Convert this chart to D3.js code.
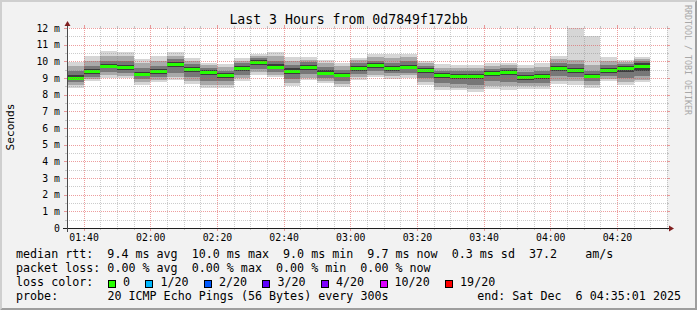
<!DOCTYPE html>
<html><head><meta charset="utf-8">
<script src="https://cdn.jsdelivr.net/npm/d3@7"></script>
<style>
html,body{margin:0;padding:0;background:#f2f2f2;}
svg{display:block;}
text{font-family:"DejaVu Sans Mono",monospace;white-space:pre;}
</style>
</head><body>
<svg id="c" width="697" height="310"></svg>
<script>
// ---- data ----
const slotStart = ["01:35","01:40","01:45","01:50","01:55","02:00","02:05","02:10","02:15","02:20","02:25","02:30","02:35","02:40","02:45","02:50","02:55","03:00","03:05","03:10","03:15","03:20","03:25","03:30","03:35","03:40","03:45","03:50","03:55","04:00","04:05","04:10","04:15","04:20","04:25"];
const pingMin  = [8.43,8.80,9.00,8.97,8.60,8.75,8.90,8.66,8.42,8.40,8.84,9.20,9.04,8.53,8.88,8.70,8.48,8.90,9.06,8.96,9.02,8.56,8.26,8.26,8.16,8.36,8.30,8.34,8.34,8.66,8.60,8.40,8.80,8.60,8.74];
const pingLow  = [8.58,8.92,9.15,9.10,8.75,8.88,9.05,8.82,8.60,8.58,8.98,9.35,9.20,8.72,9.02,8.85,8.65,9.05,9.20,9.10,9.15,8.75,8.45,8.42,8.35,8.55,8.50,8.50,8.50,8.85,8.80,8.58,8.95,8.78,8.90];
const pingQLow = [8.75,9.08,9.35,9.30,8.95,9.05,9.30,9.05,8.85,8.80,9.20,9.55,9.38,8.95,9.22,9.02,8.85,9.25,9.40,9.28,9.32,9.00,8.70,8.65,8.60,8.80,8.78,8.70,8.72,9.10,9.05,8.80,9.12,9.02,9.12];
const pingCLow = [8.88,9.25,9.60,9.50,9.12,9.25,9.65,9.35,9.18,9.02,9.45,9.80,9.55,9.25,9.50,9.18,9.05,9.45,9.62,9.45,9.52,9.30,9.00,8.95,8.92,9.10,9.15,8.90,8.95,9.42,9.30,8.98,9.32,9.38,9.45];
const medianRtt= [8.99,9.40,9.74,9.67,9.24,9.40,9.85,9.56,9.36,9.19,9.60,9.97,9.68,9.44,9.68,9.32,9.19,9.62,9.78,9.58,9.66,9.46,9.18,9.12,9.12,9.30,9.36,9.04,9.10,9.60,9.46,9.10,9.46,9.60,9.74];
const pingCHigh= [9.15,9.55,9.85,9.80,9.38,9.55,9.98,9.68,9.48,9.30,9.72,10.07,9.82,9.58,9.80,9.48,9.32,9.74,9.90,9.72,9.80,9.58,9.30,9.25,9.24,9.42,9.48,9.18,9.25,9.75,9.62,9.25,9.60,9.72,9.88];
const pingQHigh= [9.40,9.75,10.05,10.00,9.60,9.75,10.15,9.85,9.62,9.45,9.88,10.20,10.02,9.78,9.95,9.68,9.50,9.90,10.05,9.92,10.00,9.72,9.45,9.42,9.40,9.56,9.62,9.38,9.45,9.92,9.82,9.45,9.80,9.85,10.00];
const pingHigh = [9.70,10.05,10.35,10.30,9.90,10.05,10.35,10.02,9.78,9.65,10.05,10.33,10.30,10.02,10.10,9.90,9.70,10.06,10.25,10.20,10.25,9.88,9.62,9.60,9.58,9.72,9.76,9.60,9.68,10.12,10.10,9.80,10.05,9.98,10.12];
const pingMax  = [9.97,10.33,10.62,10.54,10.14,10.31,10.54,10.20,9.93,9.83,10.20,10.46,10.55,10.25,10.24,10.08,9.88,10.22,10.46,10.46,10.46,10.02,9.82,9.76,9.76,9.90,9.90,9.80,9.90,10.34,12.00,11.50,10.26,10.10,10.26];

const yTickValues = [0,1,2,3,4,5,6,7,8,9,10,11,12];
const yTickLabels = ["0","1 m","2 m","3 m","4 m","5 m","6 m","7 m","8 m","9 m","10 m","11 m","12 m"];
const xTickLabels = ["01:40","02:00","02:20","02:40","03:00","03:20","03:40","04:00","04:20"];

const titleText = "Last 3 Hours from 0d7849f172bb";
const medianStats = ["9.4","10.0","9.0","9.7","0.3","37.2"];
const lossStats = ["0.00","0.00","0.00","0.00"];
const lossLabels = ["0","1/20","2/20","3/20","4/20","10/20","19/20"];
const lossColors = ["#26ff00","#00b8ff","#0059ff","#5e00ff","#7e00ff","#dd00ff","#ff0000"];
const probeText = "20 ICMP Echo Pings (56 Bytes) every 300s";
const endText = "end: Sat Dec  6 04:35:01 2025";

// ---- layout ----
const svg = d3.select("#c");
const W = 697, H = 310;
const X0 = 67, X1 = 667, Y0 = 228, Y1 = 28;
const day = (h, m, s) => new Date(2025, 11, 6, h, m, s || 0);
const parseHM = s => { const [h, m] = s.split(":").map(Number); return day(h, m, 0); };
const tStart = day(1, 35, 1), tEnd = day(4, 35, 1);
const xs = d3.scaleTime().domain([tStart, tEnd]).range([X0, X1]);
const ys = d3.scaleLinear().domain([0, 12]).range([Y0, Y1]);

svg.append("rect").attr("width", W).attr("height", H).attr("fill", "#f2f2f2");
svg.append("rect").attr("x", X0).attr("y", Y1).attr("width", X1 - X0).attr("height", Y0 - Y1).attr("fill", "#ffffff");

// smoke bands
const bands = [
  {lo: pingMin, hi: pingMax, c: "#d6d6d6"},
  {lo: pingLow, hi: pingHigh, c: "#a9a9a9"},
  {lo: pingQLow, hi: pingQHigh, c: "#777777"},
  {lo: pingCLow, hi: pingCHigh, c: "#3c3c3c"}
];
const gSmoke = svg.append("g").attr("shape-rendering", "crispEdges");
const slotX = slotStart.map(s => {
  const t0 = parseHM(s);
  const t1 = d3.timeMinute.offset(t0, 5);
  const a = Math.max(X0, Math.round(xs(t0)));
  const b = Math.round(xs(t1));
  return [a, b];
});
bands.forEach(b => {
  gSmoke.append("g").selectAll("rect").data(slotStart).join("rect")
    .attr("x", (d, i) => slotX[i][0])
    .attr("width", (d, i) => slotX[i][1] - slotX[i][0])
    .attr("y", (d, i) => Math.round(ys(b.hi[i])))
    .attr("height", (d, i) => Math.round(ys(b.lo[i])) - Math.round(ys(b.hi[i])))
    .attr("fill", b.c);
});
gSmoke.append("g").selectAll("rect").data(medianRtt).join("rect")
  .attr("x", (d, i) => slotX[i][0])
  .attr("width", (d, i) => slotX[i][1] - slotX[i][0])
  .attr("y", d => Math.round(ys(d)) - 1)
  .attr("height", 3)
  .attr("fill", lossColors[0]);

// grid on top
const minorCol = "rgba(128,128,128,0.4)", majorCol = "rgba(222,79,79,0.55)";
const gGrid = svg.append("g").attr("shape-rendering", "crispEdges").attr("stroke-width", 1);
const hMinor = d3.range(0.5, 12, 1), hMajor = d3.range(1, 13, 1);
function hline(v, col, ext) {
  const y = Math.round(ys(v)) + 0.5;
  gGrid.append("line").attr("x1", X0).attr("x2", X1).attr("y1", y).attr("y2", y)
    .attr("stroke", col).attr("stroke-dasharray", "1,1");
  gGrid.append("line").attr("x1", X0 - ext).attr("x2", X0).attr("y1", y).attr("y2", y).attr("stroke", col);
  gGrid.append("line").attr("x1", X1).attr("x2", X1 + ext).attr("y1", y).attr("y2", y).attr("stroke", col);
}
hMinor.forEach(v => hline(v, minorCol, 2));
hMajor.forEach(v => hline(v, majorCol, 3));
const majorTimes = xTickLabels.map(parseHM);
const minorTimes = d3.timeMinute.every(5).range(tStart, d3.timeSecond.offset(tEnd, 1))
  .filter(t => !majorTimes.some(m => +m === +t));
function vline(t, col, ext) {
  const x = Math.round(xs(t)) + 0.5;
  gGrid.append("line").attr("x1", x).attr("x2", x).attr("y1", Y1).attr("y2", Y0)
    .attr("stroke", col).attr("stroke-dasharray", "1,1");
  gGrid.append("line").attr("x1", x).attr("x2", x).attr("y1", Y0).attr("y2", Y0 + ext).attr("stroke", col);
  gGrid.append("line").attr("x1", x).attr("x2", x).attr("y1", Y1 - ext).attr("y2", Y1).attr("stroke", col);
}
minorTimes.forEach(t => vline(t, minorCol, 2));
majorTimes.forEach(t => vline(t, majorCol, 3));

// axes lines + arrows
svg.append("line").attr("x1", X0 - 4).attr("x2", X1 + 4).attr("y1", Y0 + 0.5).attr("y2", Y0 + 0.5)
  .attr("stroke", "#1f1f1f").attr("shape-rendering", "crispEdges");
svg.append("line").attr("x1", X0 + 0.5).attr("x2", X0 + 0.5).attr("y1", Y0 + 4).attr("y2", Y1 - 4)
  .attr("stroke", "#4a4a4a").attr("shape-rendering", "crispEdges");
svg.append("path").attr("d", `M${X1 + 2},${Y0 - 2.5}L${X1 + 2},${Y0 + 3.5}L${X1 + 7},${Y0 + 0.5}Z`).attr("fill", "#801f1f");
svg.append("path").attr("d", `M${X0 - 2.5},${Y1 - 2}L${X0 + 3.5},${Y1 - 2}L${X0 + 0.5},${Y1 - 7}Z`).attr("fill", "#801f1f");

// axis labels via d3 axes
const yAxis = d3.axisLeft(ys).tickValues(yTickValues).tickSize(0).tickPadding(7)
  .tickFormat((d, i) => yTickLabels[i]);
const gy = svg.append("g").attr("transform", `translate(${X0},0)`).call(yAxis);
gy.select(".domain").remove();
gy.selectAll("text").attr("font-family", "DejaVu Sans Mono").attr("font-size", "9.8px").attr("fill", "#000");

const xAxis = d3.axisBottom(xs).tickValues(majorTimes).tickSize(0).tickPadding(6)
  .tickFormat((d, i) => xTickLabels[i]);
const gx = svg.append("g").attr("transform", `translate(0,${Y0})`).call(xAxis);
gx.select(".domain").remove();
gx.selectAll("text").attr("font-family", "DejaVu Sans Mono").attr("font-size", "9.8px").attr("fill", "#000");

// title and side texts
svg.append("text").attr("x", W / 2).attr("y", 23.5).attr("text-anchor", "middle")
  .attr("font-size", "13.2px").attr("fill", "#000").text(titleText);
svg.append("text").attr("transform", "translate(14,127) rotate(-90)").attr("text-anchor", "middle")
  .attr("font-size", "11.2px").attr("fill", "#000").text("Seconds");
svg.append("text").attr("transform", "translate(684.5,5) rotate(90)").attr("text-anchor", "start")
  .attr("font-size", "8.3px").attr("fill", "#a8a8a8").text("RRDTOOL / TOBI OETIKER");

// legend
const LF = 11.68, CW = LF * 0.602, LX = 16;
const row1 = `median rtt:  ${medianStats[0]} ms avg  ${medianStats[1]} ms max  ${medianStats[2]} ms min  ${medianStats[3]} ms now  ${medianStats[4]} ms sd  ${medianStats[5]}    am/s`;
const row2 = `packet loss: ${lossStats[0]} % avg  ${lossStats[1]} % max  ${lossStats[2]} % min  ${lossStats[3]} % now`;
const leg = svg.append("g").attr("font-size", LF + "px").attr("fill", "#000");
leg.append("text").attr("x", LX).attr("y", 258).text(row1);
leg.append("text").attr("x", LX).attr("y", 272).text(row2);
leg.append("text").attr("x", LX).attr("y", 286).text("loss color:");
leg.append("text").attr("x", LX).attr("y", 300).text("probe:");
leg.append("text").attr("x", LX + 13 * CW).attr("y", 300).text(probeText);
leg.append("text").attr("x", W - 16).attr("y", 300).attr("text-anchor", "end").text(endText);
let bx = 108;
lossLabels.forEach((lab, i) => {
  leg.append("rect").attr("x", bx + 0.5).attr("y", 280.5).attr("width", 7).attr("height", 7)
    .attr("fill", lossColors[i]).attr("stroke", "#000").attr("stroke-width", 1).attr("shape-rendering", "crispEdges");
  leg.append("text").attr("x", bx + 15).attr("y", 286).text(lab);
  bx += 15 + lab.length * CW + 15.4;
});

// 3D frame
svg.append("path").attr("d", `M0,${H}L2,${H - 2}L2,2L${W - 2},2L${W},0L0,0Z`).attr("fill", "#cfcfcf");
svg.append("path").attr("d", `M2,${H - 2}L${W - 2},${H - 2}L${W - 2},2L${W},0L${W},${H}L0,${H}Z`).attr("fill", "#9e9e9e");
</script>
</body></html>
